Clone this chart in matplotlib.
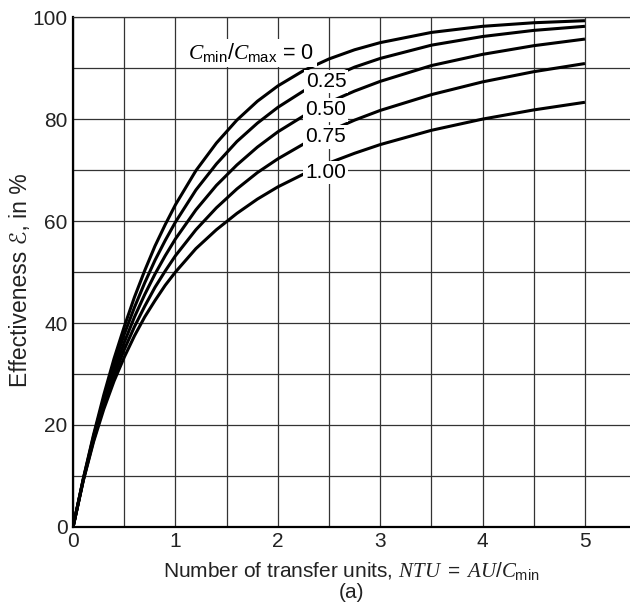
import numpy as np
import matplotlib
matplotlib.use("Agg")
import matplotlib.pyplot as plt

plt.rcParams['font.family'] = ['Liberation Sans', 'DejaVu Sans']
plt.rcParams['mathtext.fontset'] = 'custom'
plt.rcParams['mathtext.rm'] = 'Liberation Sans'
plt.rcParams['mathtext.sf'] = 'Liberation Sans'
plt.rcParams['mathtext.it'] = 'Liberation Serif:italic'

# NTU values read along the x axis
ntu = [0, 0.1, 0.2, 0.3, 0.4, 0.5, 0.6, 0.7, 0.8, 0.9, 1.0, 1.2, 1.4, 1.6, 1.8,
       2.0, 2.25, 2.5, 2.75, 3.0, 3.5, 4.0, 4.5, 5.0]

# effectiveness in %, one list per capacity ratio Cmin/Cmax
eff_000 = [0, 9.5, 18.1, 25.9, 33.0, 39.3, 45.1, 50.3, 55.1, 59.3, 63.2, 69.9, 75.3, 79.8, 83.5,
           86.5, 89.5, 91.8, 93.6, 95.0, 97.0, 98.2, 98.9, 99.3]
eff_025 = [0, 9.4, 17.8, 25.2, 31.8, 37.8, 43.1, 47.9, 52.3, 56.2, 59.8, 66.1, 71.2, 75.6, 79.2,
           82.3, 85.5, 88.0, 90.2, 91.9, 94.5, 96.2, 97.4, 98.2]
eff_050 = [0, 9.3, 17.4, 24.5, 30.7, 36.2, 41.2, 45.6, 49.6, 53.2, 56.5, 62.2, 67.0, 71.0, 74.5,
           77.5, 80.6, 83.3, 85.5, 87.4, 90.5, 92.7, 94.4, 95.7]
eff_075 = [0, 9.2, 17.0, 23.8, 29.6, 34.8, 39.3, 43.3, 47.0, 50.2, 53.2, 58.3, 62.6, 66.3, 69.5,
           72.2, 75.1, 77.6, 79.8, 81.7, 84.8, 87.3, 89.3, 90.9]
eff_100 = [0, 9.1, 16.7, 23.1, 28.6, 33.3, 37.5, 41.2, 44.4, 47.4, 50.0, 54.6, 58.3, 61.5, 64.3,
           66.7, 69.2, 71.4, 73.3, 75.0, 77.8, 80.0, 81.8, 83.3]

series = [eff_000, eff_025, eff_050, eff_075, eff_100]
ratio_labels = ['0.25', '0.50', '0.75', '1.00']
label_y = [87.3, 81.8, 76.5, 69.6]

fig = plt.figure(figsize=(6.3, 6.12), dpi=100)
ax = fig.add_axes([0.116, 0.139, 0.884, 0.833])

for s in series:
    ax.plot(ntu, s, color='black', lw=2.2, zorder=3, solid_capstyle='butt',
            solid_joinstyle='round')

# curve labels with white boxes that break the lines
ax.text(1.74, 93.0, r'$C_{\mathrm{min}}/C_{\mathrm{max}}$' + ' = 0', fontsize=15.5,
        ha='center', va='center', zorder=4,
        bbox=dict(facecolor='white', edgecolor='none', pad=2))
for lab, yy in zip(ratio_labels, label_y):
    ax.text(2.47, yy, lab, fontsize=15, ha='center', va='center', zorder=4,
            bbox=dict(facecolor='white', edgecolor='none', pad=1.5))

ax.set_xlim(0, 5.44)
ax.set_ylim(0, 100)
ax.set_xticks([0, 1, 2, 3, 4, 5])
ax.set_yticks([0, 20, 40, 60, 80, 100])
ax.set_xticks(np.arange(0, 5.01, 0.5), minor=True)
ax.set_yticks(np.arange(0, 100.1, 10), minor=True)
ax.grid(True, which='both', color='#333333', lw=0.9)
ax.tick_params(which='both', length=0, labelsize=15, colors='#222222', pad=4)
ax.set_axisbelow(True)

ax.spines['right'].set_visible(False)
ax.spines['top'].set_linewidth(0.9)
ax.spines['top'].set_color('#333333')
ax.spines['left'].set_linewidth(1.6)
ax.spines['bottom'].set_linewidth(1.6)

ax.set_ylabel('Effectiveness \u2130, in %', fontsize=16.5, color='#222222')
ax.yaxis.set_label_coords(-0.074, 0.484)
ax.set_xlabel('Number of transfer units, ' + r'$NTU\ =\ AU/C_{\mathrm{min}}$' + '\n(a)',
              fontsize=15, color='#222222', labelpad=6, linespacing=1.1)

fig.savefig('out.png', dpi=100)
